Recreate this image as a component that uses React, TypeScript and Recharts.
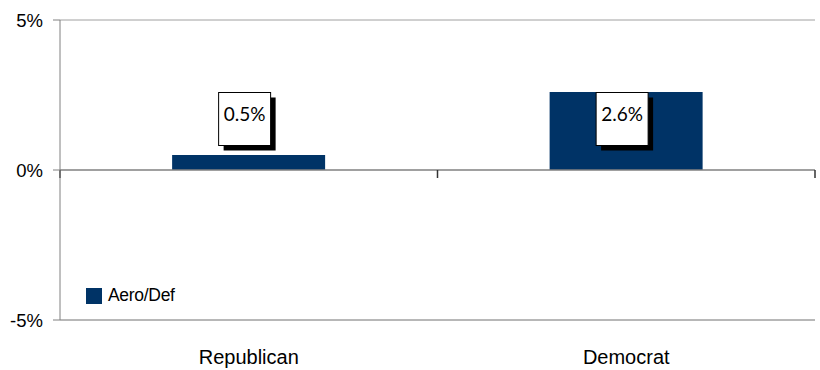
import { BarChart, Bar, XAxis, YAxis, ReferenceLine, LabelList, Legend } from "recharts";

const categories = ["Republican", "Democrat"];
const aeroDef = [0.5, 2.6];
const seriesName = "Aero/Def";
const yTicks = [-5, 0, 5];

const data = categories.map((party, i) => ({ party, value: aeroDef[i] }));

// label boxes sit at a fixed level on the value axis
const LABEL_LEVEL = 1.7;
const NAVY = "#003366";
const GRID = "#a0a0a0";

function BoxLabel(props: any) {
  const { x, y, width, height, value } = props;
  const zeroY = y + height;
  const perUnit = height / value;
  const cy = zeroY - LABEL_LEVEL * perUnit;
  const cx = x + width / 2 - 4;
  const w = 52;
  const h = 53;
  return (
    <g>
      <rect x={cx - w / 2 + 5} y={cy - h / 2 + 5} width={w} height={h} fill="#000" />
      <rect x={cx - w / 2} y={cy - h / 2} width={w} height={h} fill="#fff" stroke="#000" strokeWidth={1} />
      <text x={cx} y={cy - 3} textAnchor="middle" dominantBaseline="middle" fontFamily="Lato" fontSize={19} fill="#000">
        {`${value.toFixed(1)}%`}
      </text>
    </g>
  );
}

// zero line with the category boundary ticks hanging below it
function ZeroAxis(props: any) {
  const { x1, x2, y1 } = props;
  const n = categories.length;
  const marks = Array.from({ length: n + 1 }, (_, k) => x1 + ((x2 - x1) * k) / n);
  return (
    <g>
      <line x1={x1} x2={x2} y1={y1} y2={y1} stroke="#808080" strokeWidth={1.5} />
      {marks.map((mx) => (
        <line key={mx} x1={mx} x2={mx} y1={y1} y2={y1 + 8} stroke="#333" strokeWidth={1.5} />
      ))}
    </g>
  );
}

function LegendBox(props: any) {
  const item = props.payload?.[0];
  return (
    <div style={{ display: "flex", alignItems: "center", fontFamily: "Liberation Sans", fontSize: 17.5, letterSpacing: -0.3, color: "#000" }}>
      <span style={{ display: "inline-block", width: 16, height: 16, background: item?.color ?? NAVY, marginRight: 6 }} />
      <span>{item?.value ?? seriesName}</span>
    </div>
  );
}

export default function App() {
  return (
    <div style={{ position: "absolute", left: 0, top: 0, background: "#fff" }}>
      <BarChart width={820} height={370} data={data} margin={{ top: 20, right: 5, bottom: 0, left: 0 }} barCategoryGap="29.7%">
        <XAxis
          dataKey="party"
          height={50}
          axisLine={{ stroke: GRID }}
          tickLine={false}
          tickSize={0}
          tickMargin={30}
          tick={{ fontFamily: "Liberation Sans", fontSize: 20, fill: "#000" }}
        />
        <YAxis
          width={60}
          domain={[-5, 5]}
          ticks={yTicks}
          tickFormatter={(v: number) => `${v}%`}
          axisLine={{ stroke: "#808080" }}
          tickLine={{ stroke: "#808080" }}
          tickSize={7}
          tickMargin={10}
          tick={{ fontFamily: "Liberation Sans", fontSize: 18.5, fill: "#000" }}
        />
        {yTicks
          .filter((t) => t !== 0)
          .map((t) => (
            <ReferenceLine key={t} y={t} stroke={GRID} />
          ))}
        <ReferenceLine y={0} shape={ZeroAxis} />
        <Legend
          layout="horizontal"
          align="center"
          verticalAlign="middle"
          content={LegendBox}
          wrapperStyle={{ left: 86, top: 285, width: "auto" }}
        />
        <Bar dataKey="value" name={seriesName} fill={NAVY} isAnimationActive={false}>
          <LabelList dataKey="value" content={BoxLabel} />
        </Bar>
      </BarChart>
    </div>
  );
}
